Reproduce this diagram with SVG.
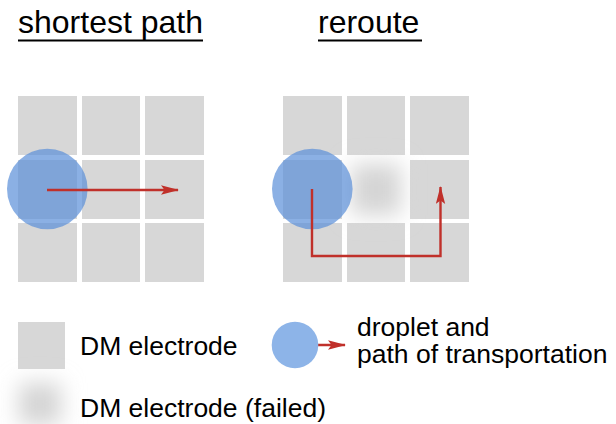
<svg xmlns="http://www.w3.org/2000/svg" width="616" height="424" viewBox="0 0 616 424">
  <style>
    text { font-family: "Liberation Sans", Arial, sans-serif; fill: #000; }
    .title { font-size: 32px; }
    .label { font-size: 26.5px; }
    .cell { fill: #d7d7d7; }
    .drop { fill: #5a8fd8; fill-opacity: 0.7; }
    .path { fill: none; stroke: #c0302a; stroke-width: 2.4; }
    .uline { stroke: #000; stroke-width: 2; }
    .faded { fill: #d4d4d4; }
  </style>
  <defs>
    <marker id="head" markerUnits="userSpaceOnUse" markerWidth="18" markerHeight="10" refX="17" refY="5" orient="auto" viewBox="0 0 18 10">
      <path d="M0,0.3 L18,5 L0,9.7 L3.5,5 Z" fill="#c0302a"/>
    </marker>
    <filter id="soft" x="-80%" y="-80%" width="260%" height="260%">
      <feGaussianBlur stdDeviation="11"/>
    </filter>
  </defs>

  <!-- headings -->
  <g id="title-shortest">
    <text class="title" x="18" y="33">shortest path</text>
    <line class="uline" x1="18" y1="40.5" x2="203" y2="40.5"/>
  </g>
  <g id="title-reroute">
    <text class="title" x="318" y="33">reroute</text>
    <line class="uline" x1="318" y1="40.5" x2="422" y2="40.5"/>
  </g>

  <!-- left grid: shortest path -->
  <g id="grid-shortest">
    <rect class="cell" x="18" y="96" width="59" height="59"/>
    <rect class="cell" x="82" y="96" width="58" height="59"/>
    <rect class="cell" x="145" y="96" width="59" height="59"/>
    <rect class="cell" x="18" y="160" width="59" height="59"/>
    <rect class="cell" x="82" y="160" width="58" height="59"/>
    <rect class="cell" x="145" y="160" width="59" height="59"/>
    <rect class="cell" x="18" y="223" width="59" height="59"/>
    <rect class="cell" x="82" y="223" width="58" height="59"/>
    <rect class="cell" x="145" y="223" width="59" height="59"/>
  </g>
  <g id="droplet-shortest">
    <circle class="drop" cx="47.3" cy="189" r="40.3"/>
  </g>

  <!-- right grid: reroute around the failed electrode -->
  <g id="grid-reroute">
    <rect class="cell" x="283" y="96" width="59" height="59"/>
    <rect class="cell" x="347" y="96" width="58" height="59"/>
    <rect class="cell" x="410" y="96" width="59" height="59"/>
    <rect class="cell" x="283" y="160" width="59" height="59"/>
    <rect class="cell" x="410" y="160" width="59" height="59"/>
    <rect class="cell" x="283" y="223" width="59" height="59"/>
    <rect class="cell" x="347" y="223" width="58" height="59"/>
    <rect class="cell" x="410" y="223" width="59" height="59"/>
  </g>
  <g id="failed-electrode">
    <rect class="faded" x="351" y="164" width="50" height="51" filter="url(#soft)"/>
  </g>
  <g id="droplet-reroute">
    <circle class="drop" cx="312.3" cy="189" r="40.3"/>
  </g>

  <!-- transport paths -->
  <g id="connectors">
    <path class="path" d="M47,190 H178" marker-end="url(#head)"/>
    <path class="path" d="M312,189 V256 H440.5 V187" marker-end="url(#head)"/>
    <path class="path" d="M295,345 H345" marker-end="url(#head)"/>
  </g>

  <!-- legend -->
  <g id="legend-electrode">
    <rect class="cell" x="18" y="322" width="47" height="47"/>
    <text class="label" x="80" y="355">DM electrode</text>
  </g>
  <g id="legend-failed">
    <rect class="faded" x="19" y="383" width="42" height="42" filter="url(#soft)"/>
    <text class="label" x="80" y="417">DM electrode (failed)</text>
  </g>
  <g id="legend-droplet">
    <circle cx="295" cy="345" r="23.3" fill="#8db4e8"/>
    <text class="label" x="357" y="336">droplet and</text>
    <text class="label" x="357" y="363">path of transportation</text>
  </g>
</svg>
